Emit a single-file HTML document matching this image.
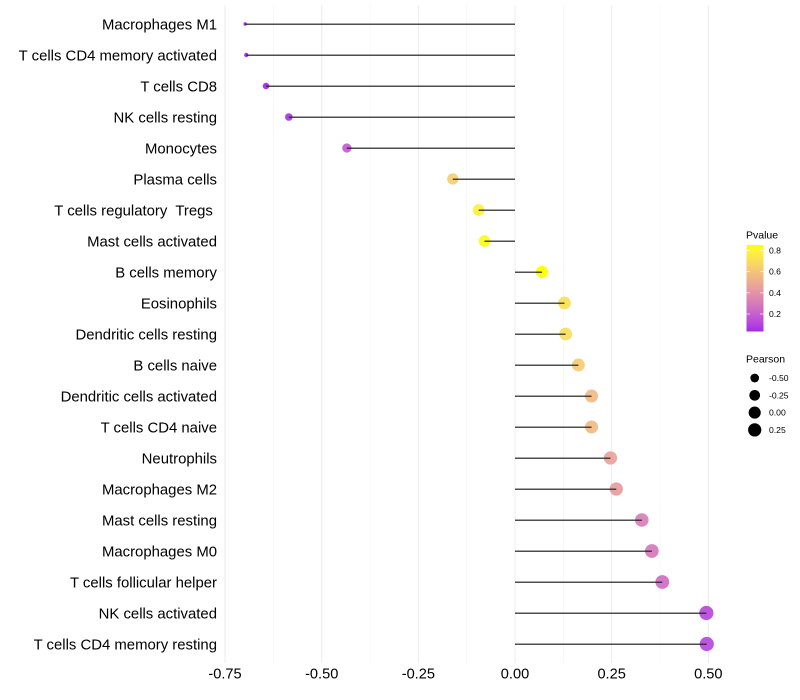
<!DOCTYPE html>
<html>
<head>
<meta charset="utf-8">
<style>
html,body{margin:0;padding:0;background:#fff;}
svg{display:block;font-family:"Liberation Sans",sans-serif;}
</style>
</head>
<body>
<svg id="chart" xmlns="http://www.w3.org/2000/svg" width="800" height="700" viewBox="0 0 800 700">
  <defs>
    <linearGradient id="pGrad" x1="0" y1="1" x2="0" y2="0"></linearGradient>
  </defs>
  <rect width="800" height="700" fill="#ffffff"/>
  <g id="grid"></g>
  <g id="dots"></g>
  <g id="stems"></g>
  <g id="ylabels"></g>
  <g id="xlabels"></g>
  <g id="colorLegend"></g>
  <g id="sizeLegend"></g>
</svg>
<script>
const categories = ["Macrophages M1","T cells CD4 memory activated","T cells CD8","NK cells resting","Monocytes","Plasma cells","T cells regulatory  Tregs ","Mast cells activated","B cells memory","Eosinophils","Dendritic cells resting","B cells naive","Dendritic cells activated","T cells CD4 naive","Neutrophils","Macrophages M2","Mast cells resting","Macrophages M0","T cells follicular helper","NK cells activated","T cells CD4 memory resting"];
const pearson = [-0.698,-0.695,-0.644,-0.585,-0.435,-0.161,-0.094,-0.079,0.070,0.128,0.131,0.164,0.198,0.198,0.247,0.262,0.328,0.354,0.381,0.495,0.496];
const pvalue = [0.017,0.018,0.03,0.06,0.18,0.64,0.78,0.82,0.84,0.71,0.70,0.63,0.56,0.56,0.46,0.44,0.32,0.29,0.25,0.12,0.12];
const xTicks = [-0.75,-0.5,-0.25,0,0.25,0.5];
const xMinorTicks = [-0.625,-0.375,-0.125,0.125,0.375];
const colorTicks = [0.2,0.4,0.6,0.8];
const sizeTicks = [-0.5,-0.25,0,0.25];

const NS = "http://www.w3.org/2000/svg";
function make(parent, tag, attrs) {
  const el = document.createElementNS(NS, tag);
  for (const k in attrs) el.setAttribute(k, attrs[k]);
  parent.appendChild(el);
  return el;
}
const byId = id => document.getElementById(id);

/* axis functions */
const xScale = v => 515 + v * 386.6;
const yScale = i => 24 + i * 31;
const PANEL_TOP = 5, PANEL_BOTTOM = 663;

/* size scale: compressed diameter */
const rMin = Math.min(...pearson), rMax = Math.max(...pearson);
function diameter(v) {
  const t = Math.max(0, (v - rMin) / (rMax - rMin));
  return 3.4 + 10.8 * Math.pow(t, 0.4);
}

/* colour scale: Lab interpolation, purple to yellow */
function toLab(r, g, b) {
  const f = c => { c /= 255; return c > 0.04045 ? Math.pow((c + 0.055) / 1.055, 2.4) : c / 12.92; };
  const R = f(r), G = f(g), B = f(b);
  const X = (0.4124 * R + 0.3576 * G + 0.1805 * B) / 0.95047;
  const Y = 0.2126 * R + 0.7152 * G + 0.0722 * B;
  const Z = (0.0193 * R + 0.1192 * G + 0.9505 * B) / 1.08883;
  const h = t => t > 0.008856 ? Math.cbrt(t) : 7.787 * t + 16 / 116;
  return [116 * h(Y) - 16, 500 * (h(X) - h(Y)), 200 * (h(Y) - h(Z))];
}
function fromLab(L, a, b) {
  const fy = (L + 16) / 116, fx = fy + a / 500, fz = fy - b / 200;
  const g = t => t * t * t > 0.008856 ? t * t * t : (t - 16 / 116) / 7.787;
  const X = g(fx) * 0.95047, Y = g(fy), Z = g(fz) * 1.08883;
  const c = v => {
    v = v > 0.0031308 ? 1.055 * Math.pow(v, 1 / 2.4) - 0.055 : 12.92 * v;
    return Math.round(Math.min(1, Math.max(0, v)) * 255);
  };
  return "rgb(" + c(3.2406 * X - 1.5372 * Y - 0.4986 * Z) + "," + c(-0.9689 * X + 1.8758 * Y + 0.0415 * Z) + "," + c(0.0557 * X - 0.204 * Y + 1.057 * Z) + ")";
}
const labLow = toLab(160, 32, 240), labHigh = toLab(255, 255, 0);
const pMin = 0.017, pMax = 0.84;
function colorOf(p) {
  const t = Math.min(1, Math.max(0, (p - pMin) / (pMax - pMin)));
  return fromLab(
    labLow[0] + (labHigh[0] - labLow[0]) * t,
    labLow[1] + (labHigh[1] - labLow[1]) * t,
    labLow[2] + (labHigh[2] - labLow[2]) * t
  );
}

/* grid */
xMinorTicks.forEach(v => {
  const l = make(byId("grid"), "line", {x1: xScale(v), x2: xScale(v), y1: PANEL_TOP, y2: PANEL_BOTTOM, stroke: "#f3f3f3", "stroke-width": 0.6});
  
  
});
xTicks.forEach(v => {
  const l = make(byId("grid"), "line", {x1: xScale(v), x2: xScale(v), y1: PANEL_TOP, y2: PANEL_BOTTOM, stroke: "#eeeeee", "stroke-width": 1.1});
  
  
});

/* dots, stems and category labels */
categories.forEach((name, i) => {
  const y = yScale(i), x = xScale(pearson[i]);
  const c = make(byId("dots"), "circle", {cx: x, cy: y, r: diameter(pearson[i]) / 2, fill: colorOf(pvalue[i]), "fill-opacity": 0.92});
  
  
  const s = make(byId("stems"), "line", {x1: xScale(0), x2: x, y1: y + 0.2, y2: y + 0.2, stroke: "#222222", "stroke-width": 1.5, "stroke-opacity": 0.8});
  
  
  const t = make(byId("ylabels"), "text", {x: 217, y: y + 5.5, "text-anchor": "end", "font-size": 14.9, fill: "#000", "xml:space": "preserve", style: "white-space:pre"});
  t.textContent = name;
  
  
});

/* x labels */
xTicks.forEach(v => {
  const t = make(byId("xlabels"), "text", {x: xScale(v), y: 678.6, "text-anchor": "middle", "font-size": 14.6, fill: "#000"});
  t.textContent = v.toFixed(2);
  
  
});

/* colour legend */
const legY = p => 314 - (p - 0.2) * 106;
const grad = byId("pGrad");
const legPLow = 0.035, legPHigh = 0.85;
for (let k = 0; k <= 20; k++) {
  const p = legPLow + (legPHigh - legPLow) * k / 20;
  make(grad, "stop", {offset: (k / 20 * 100) + "%", "stop-color": colorOf(p)});
}
const legend = byId("colorLegend");
const cTitle = make(legend, "text", {x: 746, y: 238.5, "font-size": 10.5, fill: "#000"});
cTitle.textContent = "Pvalue";


const bar = make(legend, "rect", {x: 746.5, y: legY(legPHigh), width: 17, height: legY(legPLow) - legY(legPHigh), fill: "url(#pGrad)"});


colorTicks.forEach(p => {
  const y = legY(p);
  [[746.5, 750], [760, 763.5]].forEach(seg => {
    const m = make(legend, "line", {x1: seg[0], x2: seg[1], y1: y, y2: y, stroke: "#ffffff", "stroke-opacity": 0.8, "stroke-width": 0.8});
    
    
  });
  const t = make(legend, "text", {x: 769, y: y + 3, "font-size": 8.6, fill: "#000"});
  t.textContent = p.toFixed(1);
  
  
});

/* size legend */
const sLegend = byId("sizeLegend");
const sTitle = make(sLegend, "text", {x: 746, y: 362.5, "font-size": 10.5, fill: "#000"});
sTitle.textContent = "Pearson";


sizeTicks.forEach((v, i) => {
  const y = 378 + i * 17.3;
  const c = make(sLegend, "circle", {cx: 754.7, cy: y, r: diameter(v) / 2, fill: "#000"});
  
  
  const t = make(sLegend, "text", {x: 769, y: y + 3, "font-size": 8.6, fill: "#000"});
  t.textContent = v.toFixed(2);
  
  
});
</script>
</body>
</html>
